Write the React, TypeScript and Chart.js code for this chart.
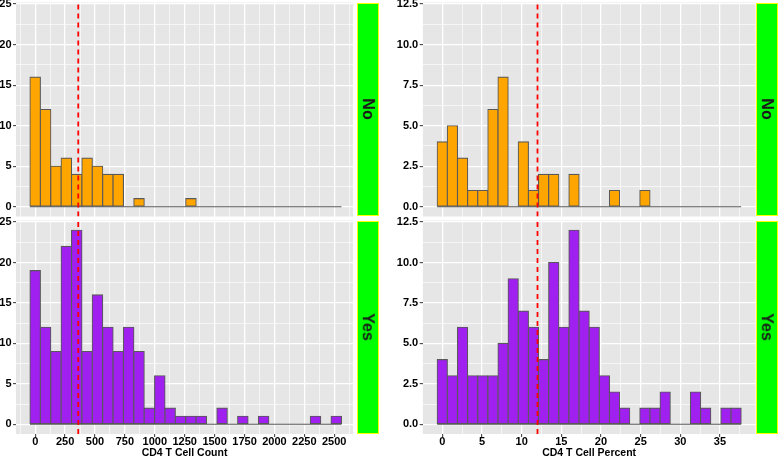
import React, { useEffect, useRef } from 'react';
import { Chart, registerables } from 'chart.js';

Chart.register(...registerables);

// ---------------- data ----------------
const COUNT_BIN_WIDTH = 86.8;
const PERCENT_BIN_WIDTH = 1.277;

const countNo = [16, 12, 5, 6, 4, 6, 5, 4, 4, 0, 1, 0, 0, 0, 0, 1, 0, 0, 0, 0, 0, 0, 0, 0, 0, 0, 0, 0, 0, 0];
const countYes = [19, 12, 9, 22, 24, 9, 16, 12, 9, 12, 9, 2, 6, 2, 1, 1, 1, 0, 2, 0, 1, 0, 1, 0, 0, 0, 0, 1, 0, 1];
const percentNo = [4, 5, 3, 1, 1, 6, 8, 0, 4, 1, 2, 2, 0, 2, 0, 0, 0, 1, 0, 0, 1, 0, 0, 0, 0, 0, 0, 0, 0, 0];
const percentYes = [4, 3, 6, 3, 3, 3, 5, 9, 7, 6, 4, 10, 6, 12, 7, 6, 3, 2, 1, 0, 1, 1, 2, 0, 0, 2, 1, 0, 1, 1];

const countMedian = 360;
const percentMedian = 12;

const facetLabels = ['No', 'Yes'];
const countTitle = 'CD4 T Cell Count';
const percentTitle = 'CD4 T Cell Percent';

const countXMajor = [0, 250, 500, 750, 1000, 1250, 1500, 1750, 2000, 2250, 2500];
const countXLabels = ['0', '250', '500', '750', '1000', '1250', '1500', '1750', '2000', '2250', '2500'];
const countXMinor = [-125, 125, 375, 625, 875, 1125, 1375, 1625, 1875, 2125, 2375, 2625];
const countYMajor = [0, 5, 10, 15, 20, 25];
const countYLabels = ['0', '5', '10', '15', '20', '25'];
const countYMinor = [2.5, 7.5, 12.5, 17.5, 22.5];

const pctXMajor = [0, 5, 10, 15, 20, 25, 30, 35];
const pctXLabels = ['0', '5', '10', '15', '20', '25', '30', '35'];
const pctXMinor = [-2.5, 2.5, 7.5, 12.5, 17.5, 22.5, 27.5, 32.5, 37.5];
const pctYMajor = [0, 2.5, 5, 7.5, 10, 12.5];
const pctYLabels = ['0.0', '2.5', '5.0', '7.5', '10.0', '12.5'];
const pctYMinor = [1.25, 3.75, 6.25, 8.75, 11.25];

// ---------------- styling ----------------
const PANEL_BG = '#E6E6E6';
const OUTLINE = '#595959';
const FONT = '"Liberation Sans", Arial, Helvetica, sans-serif';

type PanelProps = {
  left: number; top: number; width: number; height: number;
  padTop: number; padBottom: number; padRight: number;
  yWidth: number; xHeight: number; showXAxis: boolean; xTitle: string;
  xMin: number; xMax: number; yMin: number; yMax: number;
  binWidth: number; values: number[]; fill: string; median: number;
  xMajor: number[]; xLabels: string[]; xMinor: number[];
  yMajor: number[]; yLabels: string[]; yMinor: number[];
};

const findIdx = (list: number[], v: number) => list.findIndex((m) => Math.abs(m - v) < 1e-9);

function Panel(p: PanelProps) {
  const ref = useRef<HTMLCanvasElement>(null);
  useEffect(() => {
    const canvas = ref.current;
    if (!canvas) return;
    const centers = p.values.map((_, i) => i * p.binWidth);
    const bars = p.values.map((v, i) => ({ x: centers[i], y: v }));
    const lastCenter = centers[centers.length - 1];
    const bgPlugin = {
      id: 'panelBg',
      beforeDraw(chart: any) {
        const { ctx, chartArea: a } = chart;
        ctx.save();
        ctx.fillStyle = PANEL_BG;
        ctx.fillRect(a.left, a.top, a.right - a.left, a.bottom - a.top);
        ctx.restore();
      },
    };
    const makeTicks = (major: number[], minor: number[]) =>
      [...major, ...minor].sort((a, b) => a - b).map((v) => ({ value: v }));
    const gridWidth = (major: number[]) => (ctx: any) =>
      ctx.tick && findIdx(major, ctx.tick.value) >= 0 ? 1.3 : 0.65;
    const tickCol = (major: number[]) => (ctx: any) =>
      ctx.tick && findIdx(major, ctx.tick.value) >= 0 ? '#333333' : 'rgba(0,0,0,0)';
    const tickFont = { family: FONT, size: 11, weight: 'bold' };

    const chart = new Chart(canvas, {
      type: 'bar',
      data: {
        datasets: [
          {
            type: 'line',
            data: [{ x: p.median, y: p.yMin }, { x: p.median, y: p.yMax }],
            borderColor: '#FF0000',
            borderWidth: 1.8,
            borderDash: [5, 4],
            pointRadius: 0,
            order: 0,
          } as any,
          {
            type: 'line',
            data: [{ x: -p.binWidth / 2, y: 0 }, { x: lastCenter + p.binWidth / 2, y: 0 }],
            borderColor: OUTLINE,
            borderWidth: 1.1,
            pointRadius: 0,
            order: 1,
          } as any,
          {
            type: 'bar',
            data: bars,
            backgroundColor: p.fill,
            borderColor: OUTLINE,
            borderWidth: 1.1,
            borderSkipped: false,
            inflateAmount: 0.55,
            barPercentage: 1,
            categoryPercentage: 1,
            order: 2,
          } as any,
        ],
      },
      options: {
        animation: false,
        responsive: false,
        maintainAspectRatio: false,
        events: [],
        layout: { padding: { top: p.padTop, bottom: p.padBottom, left: 0, right: p.padRight } },
        plugins: { legend: { display: false }, tooltip: { enabled: false }, title: { display: false } },
        scales: {
          x: {
            type: 'linear',
            min: p.xMin,
            max: p.xMax,
            offset: false,
            grid: {
              offset: false,
              color: '#FFFFFF',
              lineWidth: gridWidth(p.xMajor),
              drawTicks: p.showXAxis,
              tickLength: 3,
              tickColor: tickCol(p.xMajor),
              tickWidth: 1,
            },
            border: { display: false },
            ticks: {
              display: p.showXAxis,
              autoSkip: false,
              maxRotation: 0,
              minRotation: 0,
              padding: -2,
              color: '#000000',
              font: tickFont,
              callback: (v: any) => {
                const i = findIdx(p.xMajor, Number(v));
                return i >= 0 ? p.xLabels[i] : '';
              },
            },
            title: {
              display: p.showXAxis,
              text: p.xTitle,
              color: '#000000',
              font: { family: FONT, size: 10.5, weight: 'bold' },
              padding: { top: 0, bottom: 1 },
            },
            afterBuildTicks: (s: any) => {
              s.ticks = makeTicks(p.xMajor, p.xMinor);
            },
            afterFit: (s: any) => {
              s.height = p.xHeight;
              s.paddingLeft = 0;
              s.paddingRight = 0;
            },
          } as any,
          y: {
            type: 'linear',
            min: p.yMin,
            max: p.yMax,
            grid: {
              color: '#FFFFFF',
              lineWidth: gridWidth(p.yMajor),
              drawTicks: true,
              tickLength: 3,
              tickColor: tickCol(p.yMajor),
              tickWidth: 1,
            },
            border: { display: false },
            ticks: {
              autoSkip: false,
              padding: 1.5,
              color: '#000000',
              font: tickFont,
              callback: (v: any) => {
                const i = findIdx(p.yMajor, Number(v));
                return i >= 0 ? p.yLabels[i] : '';
              },
            },
            afterBuildTicks: (s: any) => {
              s.ticks = makeTicks(p.yMajor, p.yMinor);
            },
            afterFit: (s: any) => {
              s.width = p.yWidth;
              s.paddingTop = 0;
              s.paddingBottom = 0;
            },
          } as any,
        },
      },
      plugins: [bgPlugin],
    } as any);
    return () => chart.destroy();
  }, []);
  return (
    <canvas
      ref={ref}
      width={p.width}
      height={p.height}
      style={{ position: 'absolute', left: p.left, top: p.top, width: p.width, height: p.height }}
    />
  );
}

function Strip({ left, top, width, height, label }: { left: number; top: number; width: number; height: number; label: string }) {
  return (
    <div
      style={{
        position: 'absolute', left, top, width, height, boxSizing: 'border-box',
        background: '#00FF00', border: '1px solid #FFFF00',
        display: 'flex', alignItems: 'center', justifyContent: 'center', overflow: 'visible',
      }}
    >
      <span
        style={{
          transform: 'rotate(90deg)', flexShrink: 0, whiteSpace: 'nowrap',
          fontFamily: FONT, fontWeight: 'bold', fontSize: 16, color: '#1A1A1A', lineHeight: 1,
        }}
      >
        {label}
      </span>
    </div>
  );
}

export default function App() {
  const countCommon = {
    left: 0, width: 353, padRight: 0, yWidth: 16,
    xMin: -160.5, xMax: 2657, binWidth: COUNT_BIN_WIDTH, median: countMedian,
    yMin: -1.2, yMax: 25.2,
    xMajor: countXMajor, xLabels: countXLabels, xMinor: countXMinor,
    yMajor: countYMajor, yLabels: countYLabels, yMinor: countYMinor,
    xTitle: countTitle,
  };
  const pctCommon = {
    left: 390, width: 366, padRight: 0.5, yWidth: 32.7,
    xMin: -2.47, xMax: 39.48, binWidth: PERCENT_BIN_WIDTH, median: percentMedian,
    yMin: -0.6, yMax: 12.6,
    xMajor: pctXMajor, xLabels: pctXLabels, xMinor: pctXMinor,
    yMajor: pctYMajor, yLabels: pctYLabels, yMinor: pctYMinor,
    xTitle: percentTitle,
  };
  const topRow = { top: 0, height: 217, padTop: 2.5, padBottom: 0.5, xHeight: 0, showXAxis: false };
  const bottomRow = { top: 210, height: 250, padTop: 10.5, padBottom: 0, xHeight: 26, showXAxis: true };
  return (
    <div style={{ position: 'fixed', left: 0, top: 0, width: 778, height: 457, overflow: 'hidden', background: '#FFFFFF' }}>
      <Panel {...countCommon} {...topRow} values={countNo} fill="#FFA500" />
      <Panel {...pctCommon} {...topRow} values={percentNo} fill="#FFA500" />
      <Panel {...countCommon} {...bottomRow} values={countYes} fill="#A020F0" />
      <Panel {...pctCommon} {...bottomRow} values={percentYes} fill="#A020F0" />
      <Strip left={357} top={2.5} width={22.3} height={213.5} label={facetLabels[0]} />
      <Strip left={357} top={220.5} width={22.3} height={213.5} label={facetLabels[1]} />
      <Strip left={755.7} top={2.5} width={22.3} height={213.5} label={facetLabels[0]} />
      <Strip left={755.7} top={220.5} width={22.3} height={213.5} label={facetLabels[1]} />
    </div>
  );
}
